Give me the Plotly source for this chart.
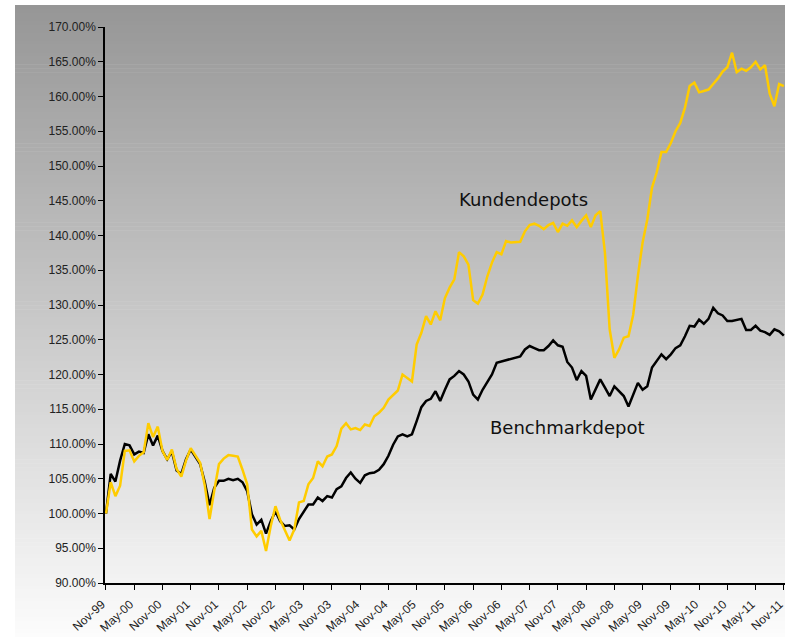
import plotly.graph_objects as go

# Monthly index values (start = 100 %), Nov-99 onward
kundendepots = [
    100.0, 104.5, 102.5, 104.0, 109.0, 109.1, 107.5, 108.3, 108.8, 113.0,
    111.0, 112.5, 109.0, 107.7, 109.2, 106.4, 105.3, 107.6, 109.4, 108.3,
    107.3, 104.0, 99.2, 103.3, 107.1, 107.9, 108.4, 108.3, 108.2, 106.3,
    104.2, 97.7, 96.7, 97.5, 94.6, 98.2, 101.05, 99.1, 97.7, 96.1,
    97.7, 101.6, 101.8, 104.2, 105.1, 107.5, 106.8, 108.2, 108.5, 109.7,
    112.2, 113.0, 112.1, 112.3, 112.0, 112.8, 112.6, 114.0, 114.5, 115.2,
    116.4, 117.1, 117.7, 120.0, 119.5, 119.0, 124.3, 126.0, 128.4, 127.2,
    129.1, 127.8, 131.0, 132.5, 133.7, 137.6, 137.0, 135.8, 130.7, 130.2,
    131.5, 134.1, 136.1, 137.6, 137.3, 139.2, 139.0, 139.1, 139.1, 140.6,
    141.5, 141.7, 141.4, 140.9, 141.5, 141.8, 140.5, 141.7, 141.4, 142.2,
    141.2, 142.1, 142.9, 141.2, 142.9, 143.5, 137.5, 126.5, 122.4, 123.6,
    125.3, 125.5, 128.6, 134.2, 139.0, 142.3, 146.9, 149.1, 152.0, 152.0,
    153.3, 155.0, 156.2, 158.4, 161.5, 162.0, 160.6, 160.8, 161.0, 161.8,
    162.6, 163.6, 164.2, 166.3, 163.5, 164.0, 163.7, 164.2, 165.0, 163.9,
    164.5, 160.4, 158.6, 161.8, 161.5,
]

benchmarkdepot = [
    100.0, 105.7, 104.6, 107.6, 110.0, 109.8, 108.5, 108.9, 108.7, 111.4,
    109.8, 111.2, 109.0, 107.8, 108.9, 106.2, 105.7, 107.8, 109.2, 108.1,
    107.1, 104.5, 101.2, 103.7, 104.7, 104.7, 105.0, 104.8, 105.0, 104.5,
    103.2, 99.9, 98.4, 99.1, 97.1, 98.9, 100.3, 98.9, 98.2, 98.3,
    97.7, 99.2, 100.3, 101.3, 101.3, 102.3, 101.8, 102.5, 102.3, 103.5,
    103.9, 105.1, 105.9, 105.0, 104.4, 105.5, 105.8, 105.9, 106.3, 107.1,
    108.3, 109.9, 111.1, 111.4, 111.1, 111.4, 113.3, 115.3, 116.2, 116.5,
    117.6, 116.2, 117.8, 119.3, 119.8, 120.5, 120.0, 119.0, 117.1, 116.4,
    117.8, 119.0, 120.0, 121.7, 121.9, 122.1, 122.2, 122.4, 122.6, 123.6,
    124.1, 123.8, 123.5, 123.5, 124.1, 124.9, 124.2, 124.0, 121.8, 121.0,
    119.2, 120.5, 119.8, 116.4, 117.8, 119.3, 118.1, 116.9, 118.3, 117.6,
    116.9, 115.4, 117.1, 118.8, 117.8, 118.3, 121.0, 121.9, 122.9, 122.2,
    122.9, 123.8, 124.2, 125.5, 127.0, 126.9, 127.9, 127.3, 128.0, 129.6,
    128.8, 128.5, 127.7, 127.7, 127.8, 128.0, 126.4, 126.4, 127.0, 126.3,
    126.1, 125.7, 126.5, 126.2, 125.6,
]

tick_labels = [
    "Nov-99", "May-00", "Nov-00", "May-01", "Nov-01", "May-02", "Nov-02",
    "May-03", "Nov-03", "May-04", "Nov-04", "May-05", "Nov-05", "May-06",
    "Nov-06", "May-07", "Nov-07", "May-08", "Nov-08", "May-09", "Nov-09",
    "May-10", "Nov-10", "May-11", "Nov-11",
]

months = list(range(len(kundendepots)))
tick_positions = [6 * k for k in range(len(tick_labels))]

W, H = 785, 637
ML, MR, MT, MB = 105, 0, 27, 54
plot_w = W - ML - MR
plot_h = H - MT - MB


def px_to_paper_x(px):
    return (px - ML) / plot_w


def px_to_paper_y(py):
    return (H - MB - py) / plot_h


# Vertical grey-to-white gradient behind the chart, built from thin strips
shapes = []
top_px, bottom_px, left_px = 5, H, 15
n_strips = 160
strip_h = (bottom_px - top_px) / n_strips
for s in range(n_strips):
    y0 = top_px + s * strip_h
    y1 = y0 + strip_h + 0.6
    t = (s + 0.5) / n_strips
    g = round(150 + (252 - 150) * t)
    shapes.append(dict(
        type="rect", xref="paper", yref="paper", layer="below",
        x0=px_to_paper_x(left_px), x1=px_to_paper_x(W + 2),
        y0=px_to_paper_y(min(y1, bottom_px + 2)), y1=px_to_paper_y(y0),
        line=dict(width=0), fillcolor=f"rgb({g},{g},{g})",
    ))

fig = go.Figure()
fig.add_trace(go.Scatter(
    x=months, y=benchmarkdepot, mode="lines", name="Benchmarkdepot",
    line=dict(color="#000000", width=2.5), hoverinfo="skip",
))
fig.add_trace(go.Scatter(
    x=months, y=kundendepots, mode="lines", name="Kundendepots",
    line=dict(color="#FFCC00", width=2.5), hoverinfo="skip",
))

label_font = dict(family="DejaVu Sans", size=18, color="#111111")
fig.add_annotation(x=88.6, y=145.2, text="Kundendepots", showarrow=False,
                   xanchor="center", yanchor="middle", font=label_font)
fig.add_annotation(x=98.0, y=112.4, text="Benchmarkdepot", showarrow=False,
                   xanchor="center", yanchor="middle", font=label_font)

y_tick_font = dict(family="Arial, Liberation Sans, sans-serif", size=12, color="#222222")
x_tick_font = dict(family="Arial, Liberation Sans, sans-serif", size=12, color="#222222")

fig.update_layout(
    width=W, height=H,
    margin=dict(l=ML, r=MR, t=MT, b=MB, pad=0, autoexpand=False),
    paper_bgcolor="#ffffff",
    plot_bgcolor="rgba(0,0,0,0)",
    showlegend=False,
    shapes=shapes,
    xaxis=dict(
        range=[-0.21, 144.25], automargin=False,
        tickmode="array", tickvals=tick_positions, ticktext=tick_labels,
        tickangle=-42, ticks="outside", ticklen=5, tickwidth=1,
        ticklabelstandoff=3, ticklabelshift=-4, ticklabeloverflow="allow",
        tickcolor="#000000", showline=True, linecolor="#000000", linewidth=1.5,
        showgrid=False, zeroline=False, tickfont=x_tick_font,
    ),
    yaxis=dict(
        range=[90, 170], dtick=5, tick0=90, automargin=False,
        tickformat=".2f", ticksuffix="%",
        ticks="outside", ticklen=5, tickwidth=1, tickcolor="#000000",
        showline=True, linecolor="#000000", linewidth=1.5,
        showgrid=False, zeroline=False, tickfont=y_tick_font,
    ),
)

fig.write_html("out.html")
